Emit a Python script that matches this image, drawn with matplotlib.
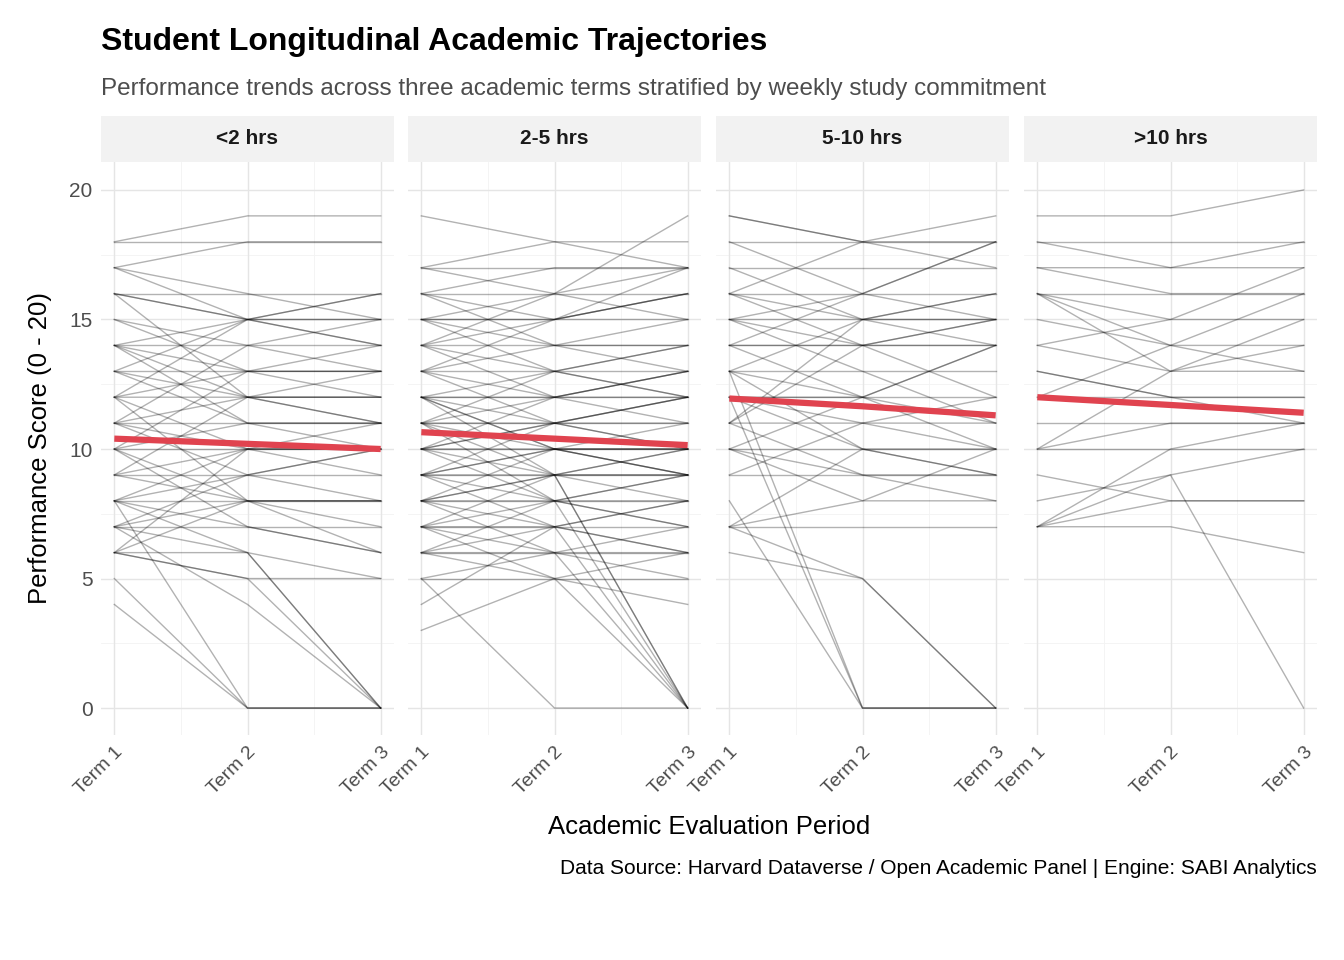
import matplotlib
matplotlib.use("Agg")
import matplotlib.pyplot as plt
plt.rcParams['font.family'] = ['Liberation Sans', 'DejaVu Sans']

panels = ["<2 hrs", "2-5 hrs", "5-10 hrs", ">10 hrs"]
terms = ["Term 1", "Term 2", "Term 3"]

traj_lt2 = [(18,19,19),(18,18,18),(17,16,15),(17,18,18),(16,15,16),(16,15,15),(14,14,14),(14,15,16),
    (13,13,13),(13,12,12),(12,12,11),(11,12,13),(11,10,10),(10,10,10),(9,9,9),(8,8,8),(8,9,10),(7,7,7),
    (7,6,0),(6,5,5),(6,6,0),(5,0,0),(4,0,0),(6,5,0),(8,0,0),(7,4,0),(16,12,11),(14,11,10),(12,15,15),
    (10,13,13),(11,11,11),(15,14,13),(13,15,14),(9,8,8),(8,10,9),(7,9,10),(6,10,11),(12,8,7),(10,7,6),
    (8,6,5),(14,12,12),(11,14,15),(16,16,16),(7,8,8),(9,12,12),(12,10,10),(13,11,11),(10,11,11),
    (15,13,13),(6,8,6),(14,13,14),(17,15,14),(11,9,8),(10,8,8),(12,13,12),(8,7,6),(9,10,10)]
traj_2_5 = [(19,18,17),(17,18,18),(17,17,17),(16,16,16),(16,15,17),(16,14,13),(15,15,15),(15,13,12),
    (15,16,19),(14,14,14),(14,12,11),(14,15,16),(13,13,13),(13,12,12),(13,11,10),(12,12,12),(12,13,14),
    (12,10,9),(11,11,11),(11,12,13),(11,9,8),(10,10,10),(10,11,12),(10,8,7),(10,9,0),(9,9,9),(9,10,11),
    (9,7,6),(8,8,8),(8,9,10),(8,7,0),(8,6,5),(7,7,7),(7,8,9),(7,6,0),(7,5,4),(6,6,6),(6,7,8),(6,5,0),
    (5,5,5),(5,0,0),(3,5,6),(12,10,10),(13,15,16),(11,13,14),(10,12,13),(9,11,12),(8,10,10),(7,9,9),
    (6,8,9),(14,13,12),(15,14,14),(16,17,17),(12,11,11),(11,10,10),(10,10,9),(9,8,8),(8,8,7),(7,7,6),
    (13,14,15),(12,12,13),(11,11,12),(10,11,10),(9,10,9),(8,9,9),(17,16,15),(15,15,16),(14,16,17),
    (12,9,0),(11,8,0),(6,6,7),(5,6,6),(4,7,8),(9,9,10)]
traj_5_10 = [(19,18,17),(18,16,15),(17,17,17),(16,16,16),(16,18,19),(15,15,15),(15,14,14),(15,13,11),
    (14,14,14),(14,16,18),(13,12,11),(13,13,13),(13,10,9),(12,11,11),(12,12,12),(11,9,9),(11,11,10),
    (11,15,16),(10,10,10),(10,9,8),(10,12,14),(9,11,12),(9,9,9),(7,7,7),(7,5,0),(7,8,8),(7,10,10),
    (8,0,0),(6,5,0),(12,0,0),(13,0,0),(11,14,15),(16,14,12),(15,16,18),(14,12,10),(12,10,9),(13,15,16),
    (10,8,10),(17,15,14),(19,18,18),(18,18,18),(16,15,15),(14,14,15),(12,12,14)]
traj_gt10 = [(19,19,20),(18,18,18),(17,17,18),(18,17,17),(16,16,16),(16,15,15),(16,13,14),(15,14,14),
    (14,13,13),(14,15,17),(13,12,12),(12,12,12),(11,11,11),(10,10,10),(10,13,15),(10,11,11),(9,8,8),
    (8,9,0),(7,8,8),(7,7,6),(7,10,11),(7,9,10),(13,12,11),(16,14,16),(12,14,13),(17,16,16)]
trajectories = [traj_lt2, traj_2_5, traj_5_10, traj_gt10]
trend = [(10.4,10.2,10.0),(10.65,10.4,10.15),(11.95,11.65,11.3),(12.0,11.7,11.4)]

fig = plt.figure(figsize=(13.44,9.6), dpi=100)
W, H = 1344, 960
lefts = [101,408,716,1024]
pw = 293
top, bot = 162, 735
xs = [1,2,3]
for i,(name,tr,tm) in enumerate(zip(panels,trajectories,trend)):
    ax = fig.add_axes([lefts[i]/W, 1-bot/H, pw/W, (bot-top)/H])
    ax.set_xlim(0.9,3.1); ax.set_ylim(-1.04,21.08)
    for v in [2.5,7.5,12.5,17.5]:
        ax.axhline(v, color="#f3f3f3", lw=0.6, zorder=0)
    for v in [1.5,2.5]:
        ax.axvline(v, color="#f3f3f3", lw=0.6, zorder=0)
    ax.grid(True, color="#e5e5e5", lw=1.0, zorder=0)
    for t in tr:
        ax.plot(xs, t, color="black", alpha=0.3, lw=1.0, zorder=2)
    ax.plot(xs, tm, color="#e0434f", lw=4.5, zorder=3, solid_capstyle="butt")
    ax.set_xticks(xs); ax.set_xticklabels(terms, rotation=45, ha="right", rotation_mode="anchor",
                                           fontsize=14, color="#4d4d4d")
    ax.set_yticks([0,5,10,15,20])
    if i == 0:
        ax.set_yticklabels(["0","5","10","15","20"], fontsize=15, color="#4d4d4d")
    else:
        ax.set_yticklabels([])
    ax.tick_params(length=0, pad=6)
    for s in ax.spines.values(): s.set_visible(False)
    ax.set_axisbelow(True)
    sax = fig.add_axes([lefts[i]/W, 1-162/H, pw/W, 46/H])
    sax.set_facecolor("#f2f2f2"); sax.set_xticks([]); sax.set_yticks([])
    for s in sax.spines.values(): s.set_visible(False)
    sax.text(0.5,0.5,name,ha="center",va="center",fontsize=15,fontweight="bold",color="#1a1a1a",
             transform=sax.transAxes)

fig.text(101/W, 1-42/H, "Student Longitudinal Academic Trajectories", fontsize=23, fontweight="bold", va="center")
fig.text(101/W, 1-89/H, "Performance trends across three academic terms stratified by weekly study commitment",
         fontsize=17.5, color="#4d4d4d", va="center")
fig.text(40/W, 1-448/H, "Performance Score (0 - 20)", fontsize=18.5, rotation=90, ha="center", va="center")
fig.text(709/W, 1-827/H, "Academic Evaluation Period", fontsize=18.5, ha="center", va="center")
fig.text(1317/W, 1-868/H, "Data Source: Harvard Dataverse / Open Academic Panel | Engine: SABI Analytics",
         fontsize=15, ha="right", va="center")
fig.savefig("out.png", dpi=100)
